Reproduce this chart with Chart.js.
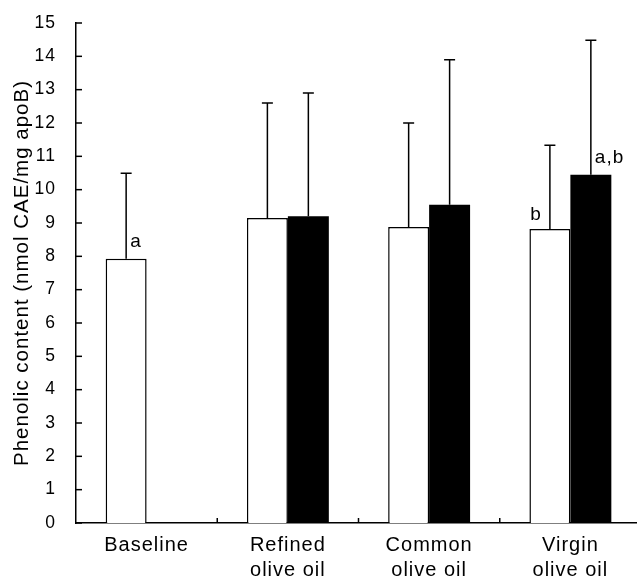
<!DOCTYPE html>
<html>
<head>
<meta charset="utf-8">
<script src="https://cdn.jsdelivr.net/npm/chart.js@4"></script>
<style>
  html, body { margin: 0; padding: 0; background: #fff; overflow: hidden; }
  #wrap { width: 641px; height: 578px; }
</style>
</head>
<body>
<div id="wrap"><canvas id="chart" width="641" height="578"></canvas></div>
<script>
// data
const categories = [['Baseline'], ['Refined', 'olive oil'], ['Common', 'olive oil'], ['Virgin', 'olive oil']];
const whiteMeans = [7.93, 9.15, 8.88, 8.82];
const whiteSD = [2.56, 3.45, 3.12, 2.51];
const blackMeans = [null, 9.2, 9.55, 10.45];
const blackSD = [null, 3.7, 4.35, 4.03];
const yTicks = [0, 1, 2, 3, 4, 5, 6, 7, 8, 9, 10, 11, 12, 13, 14, 15];
// significance letters: dataset (0 white, 1 black), category, text, side of the error line
const letters = [
    { ds: 0, idx: 0, text: 'a', side: 'right' },
    { ds: 0, idx: 3, text: 'b', side: 'left' },
    { ds: 1, idx: 3, text: 'a,b', side: 'right' }
];

const fontFamily = '"Liberation Sans", Arial, Helvetica, sans-serif';
Chart.defaults.font.family = fontFamily;
Chart.defaults.color = '#000';

const sdList = [whiteSD, blackSD];

const extrasPlugin = {
    id: 'extras',
    beforeDraw(chart) {
        chart.ctx.letterSpacing = '1px';
    },
    afterDatasetsDraw(chart) {
        const ctx = chart.ctx;
        const y = chart.scales.y;
        const x = chart.scales.x;
        ctx.save();
        ctx.strokeStyle = '#000';
        ctx.lineWidth = 1.5;

        // error bars (upper half only)
        chart.data.datasets.forEach((ds, d) => {
            const meta = chart.getDatasetMeta(d);
            ds.data.forEach((v, i) => {
                if (v === null) return;
                const bar = meta.data[i];
                const top = y.getPixelForValue(v + sdList[d][i]);
                ctx.beginPath();
                ctx.moveTo(bar.x, bar.y);
                ctx.lineTo(bar.x, top);
                ctx.moveTo(bar.x - 5.5, top);
                ctx.lineTo(bar.x + 5.5, top);
                ctx.stroke();
            });
        });

        // inward tick marks on the y axis
        const axisX = y.right;
        yTicks.forEach(t => {
            const py = y.getPixelForValue(t);
            ctx.beginPath();
            ctx.moveTo(axisX, py);
            ctx.lineTo(axisX + 6, py);
            ctx.stroke();
        });

        // inward tick marks between categories
        for (let i = 1; i < categories.length; i++) {
            const px = (x.getPixelForValue(i - 1) + x.getPixelForValue(i)) / 2;
            ctx.beginPath();
            ctx.moveTo(px, x.top);
            ctx.lineTo(px, x.top - 5);
            ctx.stroke();
        }

        // letters
        ctx.fillStyle = '#000';
        ctx.font = '19px ' + fontFamily;
        ctx.textBaseline = 'alphabetic';
        letters.forEach(l => {
            const bar = chart.getDatasetMeta(l.ds).data[l.idx];
            if (l.side === 'right') {
                ctx.textAlign = 'left';
                ctx.fillText(l.text, bar.x + 4, bar.y - 12);
            } else {
                ctx.textAlign = 'right';
                ctx.fillText(l.text, bar.x - 8, bar.y - 9);
            }
        });
        ctx.restore();
    }
};

new Chart(document.getElementById('chart'), {
    type: 'bar',
    data: {
        labels: categories,
        datasets: [{
            data: whiteMeans,
            backgroundColor: '#fff',
            borderColor: '#000',
            borderWidth: 1.5,
            borderSkipped: 'start'
        }, {
            data: blackMeans,
            backgroundColor: '#000',
            borderColor: '#000',
            borderWidth: 0
        }]
    },
    options: {
        responsive: false,
        animation: false,
        categoryPercentage: 0.58,
        barPercentage: 1.0,
        layout: { padding: { top: 23, left: 0, right: 0, bottom: 0 } },
        plugins: {
            legend: { display: false },
            tooltip: { enabled: false }
        },
        scales: {
            x: {
                z: 1,
                grid: { display: false },
                border: { display: true, color: '#000', width: 1.5 },
                ticks: {
                    font: { size: 20, lineHeight: 1.25 },
                    color: '#000',
                    padding: 2,
                    maxRotation: 0,
                    autoSkip: false
                },
                afterFit: s => { s.height = 55; }
            },
            y: {
                min: 0,
                max: 15,
                grid: { display: false },
                border: { display: true, color: '#000', width: 1.5 },
                ticks: {
                    stepSize: 1,
                    font: { size: 17.5 },
                    color: '#000',
                    padding: 12
                },
                title: {
                    display: true,
                    text: 'Phenolic content (nmol CAE/mg apoB)',
                    font: { size: 20.5 },
                    color: '#000',
                    padding: { top: 10, bottom: 0 }
                },
                afterFit: s => { s.width = 76; }
            }
        }
    },
    plugins: [extrasPlugin]
});
</script>
</body>
</html>
